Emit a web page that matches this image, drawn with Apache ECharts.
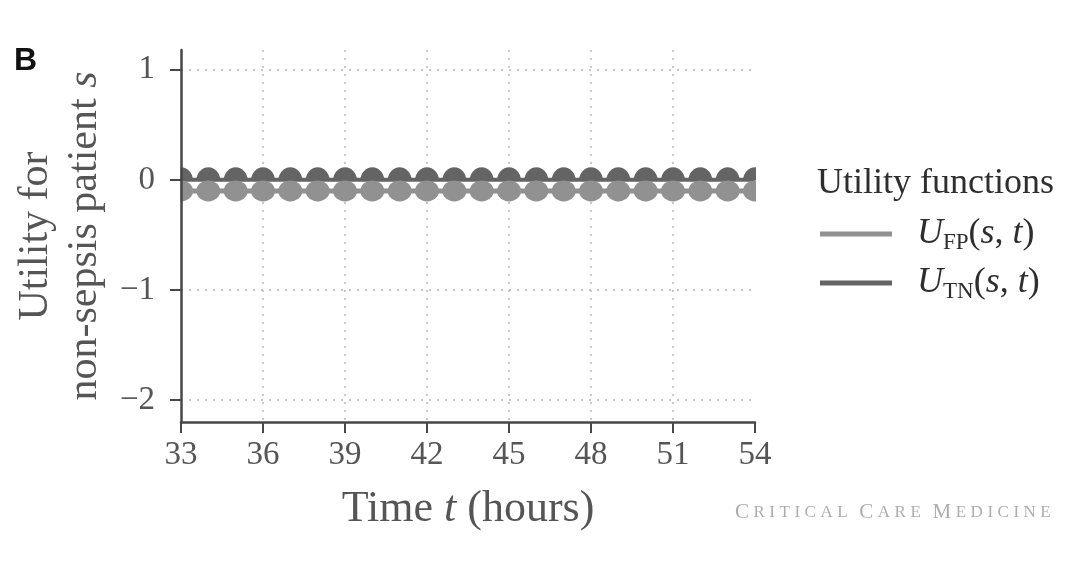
<!DOCTYPE html>
<html>
<head>
<meta charset="utf-8">
<script src="https://cdn.jsdelivr.net/npm/echarts@6/dist/echarts.min.js"></script>
<style>html,body{margin:0;padding:0;background:#fff}#c{width:1082px;height:580px}</style>
</head>
<body>
<div id="c"></div>
<script>
// ---- data ----
const hours = [33,34,35,36,37,38,39,40,41,42,43,44,45,46,47,48,49,50,51,52,53,54];
const utilityTN = [0,0,0,0,0,0,0,0,0,0,0,0,0,0,0,0,0,0,0,0,0,0];
const utilityFP = [-0.1,-0.1,-0.1,-0.1,-0.1,-0.1,-0.1,-0.1,-0.1,-0.1,-0.1,-0.1,-0.1,-0.1,-0.1,-0.1,-0.1,-0.1,-0.1,-0.1,-0.1,-0.1];
const xTicks = [33,36,39,42,45,48,51,54];
const yTicks = [-2,-1,0,1];
const seriesNames = ['FP','TN'];

const SERIF = '"Liberation Serif", "DejaVu Serif", serif';
const DARK = '#646464';
const LIGHT = '#919191';

const chart = echarts.init(document.getElementById('c'), null, {renderer: 'canvas'});

const wm = 'CRITICAL CARE MEDICINE';
let wmRich = '';
let prevSpace = true;
for (const ch of wm) {
  if (ch === ' ') { wmRich += '{sp| }'; prevSpace = true; continue; }
  wmRich += (prevSpace ? '{b|' : '{s|') + ch + '}';
  prevSpace = false;
}

const legendLabel = {
  FP: '{u|U}{sub|FP}{p|(}{u|s}{p|, }{u|t}{p|)}',
  TN: '{u|U}{sub|TN}{p|(}{u|s}{p|, }{u|t}{p|)}'
};

const yAxisBase = {
  type: 'value', min: -2.2, max: 1.18, position: 'left',
  axisTick: {customValues: yTicks},
  axisLabel: {customValues: yTicks}
};

const option = {
  animation: false,
  backgroundColor: '#fff',
  grid: {left: 181, right: 327, top: 50, bottom: 158, containLabel: false},
  title: {
    text: 'Utility functions', left: 812, top: 161,
    textStyle: {fontFamily: SERIF, fontSize: 36, fontWeight: 'normal', color: '#2e2e2e'}
  },
  legend: {
    data: seriesNames, orient: 'vertical', left: 815, top: 211,
    icon: 'rect', itemWidth: 72, itemHeight: 5, itemGap: 11,
    formatter: n => legendLabel[n],
    textStyle: {
      fontFamily: SERIF, fontSize: 36, color: '#2e2e2e', padding: [0, 0, 0, 20],
      rich: {
        u: {fontFamily: SERIF, fontStyle: 'italic', fontSize: 36, lineHeight: 40, color: '#2e2e2e'},
        p: {fontFamily: SERIF, fontSize: 36, lineHeight: 40, color: '#2e2e2e'},
        sub: {fontFamily: SERIF, fontSize: 23, lineHeight: 23, verticalAlign: 'bottom', color: '#2e2e2e'}
      }
    }
  },
  xAxis: {
    type: 'value', min: 33, max: 54, interval: 3,
    axisLine: {onZero: false, lineStyle: {color: '#474747', width: 2.5}},
    axisTick: {show: true, length: 11, lineStyle: {color: '#474747', width: 2}},
    axisLabel: {fontFamily: SERIF, fontSize: 33, color: '#555', margin: 17},
    splitLine: {show: true, showMinLine: false, showMaxLine: false,
      lineStyle: {color: '#c4c4c4', width: 1.8, type: [2, 6]}},
    name: 'Time {i|t} (hours)', nameLocation: 'middle', nameGap: 63,
    nameTextStyle: {fontFamily: SERIF, fontSize: 44, color: '#555', lineHeight: 48,
      rich: {i: {fontFamily: SERIF, fontStyle: 'italic', fontSize: 44, lineHeight: 48, color: '#555'}}}
  },
  yAxis: [
    Object.assign({}, yAxisBase, {
      z: 0,
      axisLine: {show: false},
      axisTick: {show: false, customValues: yTicks},
      axisLabel: {show: false, customValues: yTicks},
      splitLine: {show: true, showMinLine: true, showMaxLine: true,
        lineStyle: {color: '#c4c4c4', width: 1.8, type: [2, 6]}}
    }),
    Object.assign({}, yAxisBase, {
      z: 100,
      axisLine: {show: true, onZero: false, lineStyle: {color: '#474747', width: 2.5}},
      axisTick: {show: true, length: 11, customValues: yTicks, lineStyle: {color: '#474747', width: 2}},
      axisLabel: {customValues: yTicks, fontFamily: SERIF, fontSize: 33, color: '#555', margin: 26,
        formatter: v => String(v).replace('-', '\u2212')},
      splitLine: {show: false},
      name: 'Utility for\nnon-sepsis patient {i|s}', nameLocation: 'middle', nameGap: 68, nameRotate: 90,
      nameTextStyle: {fontFamily: SERIF, fontSize: 42, color: '#555', lineHeight: 49, align: 'center',
        rich: {i: {fontFamily: SERIF, fontStyle: 'italic', fontSize: 42, lineHeight: 49, color: '#555'}}}
    })
  ],
  series: [
    {
      name: 'TN', type: 'line', yAxisIndex: 0, z: 2,
      data: hours.map((h, i) => [h, utilityTN[i]]),
      color: DARK,
      lineStyle: {color: DARK, width: 4},
      symbol: 'path://M0,10 A10,10 0 0 1 20,10 Z',
      symbolSize: [24, 13], symbolOffset: [0, -6], symbolKeepAspect: false,
      showSymbol: true, showAllSymbol: true,
      itemStyle: {color: DARK, borderWidth: 0},
      emphasis: {disabled: true}
    },
    {
      name: 'FP', type: 'line', yAxisIndex: 0, z: 3,
      data: hours.map((h, i) => [h, utilityFP[i]]),
      color: LIGHT,
      lineStyle: {color: LIGHT, width: 5},
      symbol: 'circle', symbolSize: [24, 21],
      showSymbol: true, showAllSymbol: true,
      itemStyle: {color: LIGHT, borderWidth: 0},
      emphasis: {disabled: true}
    }
  ],
  graphic: [
    {type: 'rect', z: 50, shape: {x: 140, y: 150, width: 40.5, height: 70}, style: {fill: '#fff'}},
    {type: 'rect', z: 50, shape: {x: 756, y: 150, width: 50, height: 70}, style: {fill: '#fff'}},
    {type: 'text', left: 14, top: 45, z: 60,
      style: {text: 'B', font: 'bold 32px "Liberation Sans", Arial, sans-serif', fill: '#111'}},
    {type: 'text', left: 735, top: 502, z: 60,
      style: {
        text: wmRich,
        rich: {
          b: {fontFamily: SERIF, fontSize: 21, fill: '#adadad', padding: [0, 4.5, 0, 0]},
          s: {fontFamily: SERIF, fontSize: 17, fill: '#adadad', padding: [0, 4.5, 0, 0]},
          sp: {fontFamily: SERIF, fontSize: 17, fill: '#adadad', padding: [0, 3, 0, 0]}
        }
      }}
  ]
};
chart.setOption(option);
</script>
</body>
</html>
